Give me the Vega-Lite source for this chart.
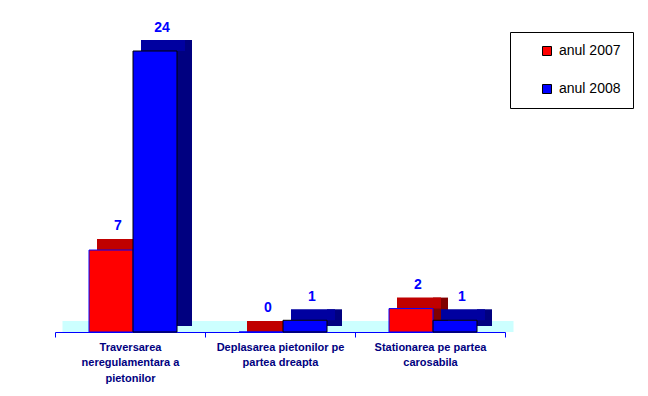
{
  "$schema": "https://vega.github.io/schema/vega-lite/v6.json",
  "autosize": {"type": "none"},
  "width": 450,
  "height": 281,
  "padding": {"left": 55, "top": 51, "right": 143, "bottom": 64},
  "background": "white",
  "config": {"view": {"stroke": null}},
  "data": {
    "values": [
      {"category": "Traversarea neregulamentara a pietonilor", "year": "anul 2007", "value": 7},
      {"category": "Traversarea neregulamentara a pietonilor", "year": "anul 2008", "value": 24},
      {"category": "Deplasarea pietonilor pe partea dreapta", "year": "anul 2007", "value": 0},
      {"category": "Deplasarea pietonilor pe partea dreapta", "year": "anul 2008", "value": 1},
      {"category": "Stationarea pe partea carosabila", "year": "anul 2007", "value": 2},
      {"category": "Stationarea pe partea carosabila", "year": "anul 2008", "value": 1}
    ]
  },
  "encoding": {
    "x": {
      "field": "category",
      "type": "nominal",
      "sort": null,
      "scale": {"paddingInner": 0, "paddingOuter": 0},
      "axis": {
        "title": null,
        "labelAngle": 0,
        "domainColor": "#0000FF",
        "tickColor": "#0000FF",
        "tickBand": "extent",
        "tickSize": 5,
        "labelFont": "Liberation Sans",
        "labelFontSize": 11,
        "labelFontWeight": "bold",
        "labelColor": "#000080",
        "labelPadding": 4,
        "labelBaseline": "top",
        "labelLineHeight": 15.5,
        "labelLimit": 200,
        "labelExpr": "datum.value == 'Traversarea neregulamentara a pietonilor' ? ['Traversarea', 'neregulamentara a', 'pietonilor'] : datum.value == 'Deplasarea pietonilor pe partea dreapta' ? ['Deplasarea pietonilor pe', 'partea dreapta'] : datum.value == 'Stationarea pe partea carosabila' ? ['Stationarea pe partea', 'carosabila'] : ''"
      }
    }
  },
  "layer": [
    {
      "transform": [{"filter": "datum.year == 'anul 2007'"}],
      "mark": {"type": "bar", "fill": "#CCFFFF", "width": 151, "xOffset": 8, "yOffset": -11},
      "encoding": {
        "y": {"datum": 0, "type": "quantitative", "scale": {"domain": [0, 24], "nice": false, "zero": true}, "axis": null},
        "y2": {"datum": 0}
      }
    },
    {
      "transform": [{"filter": "datum.year == 'anul 2007'"}],
      "mark": {"type": "bar", "fill": "#800000", "width": 15, "xOffset": 10.5, "yOffset": -11, "y2Offset": -6},
      "encoding": {
        "y": {"field": "value", "type": "quantitative"},
        "y2": {"datum": 0}
      }
    },
    {
      "transform": [{"filter": "datum.year == 'anul 2007'"}],
      "mark": {"type": "bar", "fill": "#C00000", "width": 44, "xOffset": -11, "yOffset": -11},
      "encoding": {
        "y": {"field": "value", "type": "quantitative"},
        "y2": {"field": "value"}
      }
    },
    {
      "transform": [{"filter": "datum.year == 'anul 2007'"}],
      "mark": {"type": "bar", "width": 44, "xOffset": -19, "stroke": "#0000FF", "strokeWidth": 1},
      "encoding": {
        "y": {"field": "value", "type": "quantitative"},
        "y2": {"datum": 0},
        "color": {
          "field": "year",
          "type": "nominal",
          "scale": {"domain": ["anul 2007", "anul 2008"], "range": ["#FF0000", "#0000FF"]},
          "legend": {
            "title": null,
            "orient": "none",
            "legendX": 455,
            "legendY": -19,
            "strokeColor": "#000000",
            "fillColor": "#FFFFFF",
            "padding": 12,
            "symbolOffset": 18,
            "rowPadding": 24,
            "symbolType": "square",
            "symbolSize": 81,
            "symbolStrokeColor": "#000000",
            "symbolStrokeWidth": 1,
            "labelFont": "Liberation Sans",
            "labelFontSize": 14,
            "labelColor": "#000000",
            "labelOffset": 5
          }
        }
      }
    },
    {
      "transform": [{"filter": "datum.year == 'anul 2008'"}],
      "mark": {"type": "bar", "fill": "#000080", "width": 15, "xOffset": 54.5, "yOffset": -11, "y2Offset": -6},
      "encoding": {
        "y": {"field": "value", "type": "quantitative"},
        "y2": {"datum": 0}
      }
    },
    {
      "transform": [{"filter": "datum.year == 'anul 2008'"}],
      "mark": {"type": "bar", "fill": "#0000A0", "width": 44, "xOffset": 33, "yOffset": -11},
      "encoding": {
        "y": {"field": "value", "type": "quantitative"},
        "y2": {"field": "value"}
      }
    },
    {
      "transform": [{"filter": "datum.year == 'anul 2008'"}],
      "mark": {"type": "bar", "width": 44, "xOffset": 25, "stroke": "#000000", "strokeWidth": 1},
      "encoding": {
        "y": {"field": "value", "type": "quantitative"},
        "y2": {"datum": 0},
        "color": {"field": "year", "type": "nominal"}
      }
    },
    {
      "transform": [{"filter": "datum.year == 'anul 2007'"}],
      "mark": {"type": "text", "xOffset": -12, "yOffset": -24, "font": "Liberation Sans", "fontSize": 14, "fontWeight": "bold", "color": "#0000FF", "baseline": "middle"},
      "encoding": {
        "y": {"field": "value", "type": "quantitative"},
        "text": {"field": "value", "type": "quantitative"}
      }
    },
    {
      "transform": [{"filter": "datum.year == 'anul 2008'"}],
      "mark": {"type": "text", "xOffset": 32, "yOffset": -23, "font": "Liberation Sans", "fontSize": 14, "fontWeight": "bold", "color": "#0000FF", "baseline": "middle"},
      "encoding": {
        "y": {"field": "value", "type": "quantitative"},
        "text": {"field": "value", "type": "quantitative"}
      }
    }
  ]
}
